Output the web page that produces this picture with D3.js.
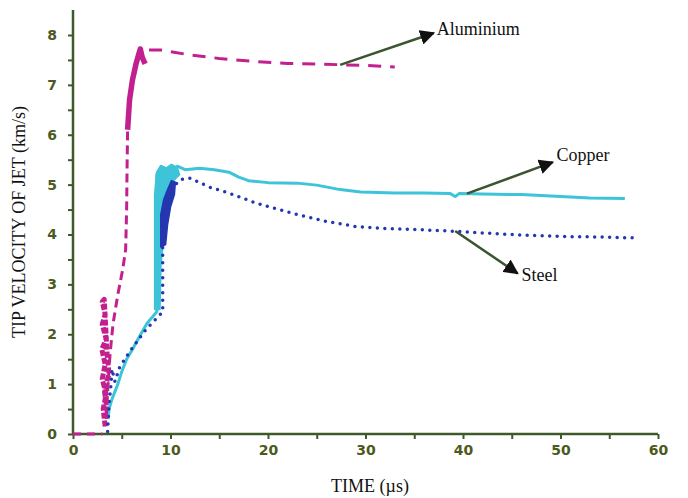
<!DOCTYPE html>
<html><head><meta charset="utf-8">
<script src="https://cdn.jsdelivr.net/npm/d3@7"></script>
<style>body{margin:0;background:#fff}svg{display:block}</style>
</head><body>
<script>
// ---- data ----
const xTicks = [0, 10, 20, 30, 40, 50, 60];
const yTicks = [0, 1, 2, 3, 4, 5, 6, 7, 8];

const aluminiumBase = [[0,0],[3.0,0]];
const aluminiumNoise = [[3.3,0.15],[3.1,0.5],[3.4,0.8],[3.0,1.1],[3.3,1.4],[2.95,1.7],[3.4,1.9],[3.0,2.2],[3.3,2.4],[3.0,2.65],[3.2,2.7],[3.5,1.6],[3.7,1.2],[3.2,0.9],[3.5,0.45]];
const aluminiumRise = [[3.4,0.3],[3.6,1.0],[3.8,1.6],[4.1,2.2],[4.6,2.8],[5.1,3.3],[5.4,3.7],[5.5,4.5],[5.55,5.4],[5.6,6.1]];
const aluminiumPeak = [[5.6,6.1],[5.8,6.7],[6.1,7.1],[6.5,7.45],[6.9,7.72],[7.1,7.55],[7.4,7.42]];
const aluminiumTail = [[7.8,7.7],[9,7.7],[12,7.6],[15,7.53],[18.5,7.47],[22,7.43],[25,7.42],[28,7.4],[30,7.39],[33,7.36]];

const copper = [[3.6,0.3],[3.7,0.5],[4.0,0.7],[4.6,1.0],[5.0,1.25],[5.5,1.5],[6.05,1.68],[6.8,1.95],[7.6,2.22],[8.6,2.45],[8.6,5.2],[9.0,5.3],[9.5,5.32],[10,5.28],[10.7,5.37],[11.5,5.3],[13,5.33],[14.5,5.3],[16,5.25],[17,5.15],[18,5.08],[20,5.04],[23,5.03],[25,4.99],[27.4,4.9],[29.5,4.85],[33,4.83],[36,4.83],[38.7,4.82],[39.2,4.76],[39.6,4.82],[42,4.81],[46,4.8],[50,4.76],[53,4.73],[56.6,4.72]];
const copperBand = [[8.4,2.5],[8.4,4.8],[8.6,5.25],[9.0,5.38],[9.6,5.33],[10.1,5.4],[10.7,5.33],[10.9,5.2],[10.4,5.1],[10.0,5.0],[9.6,4.7],[9.4,4.2],[9.2,3.8],[9.0,3.4],[8.9,2.5]];

const steel = [[3.55,0.05],[3.7,0.6],[3.9,1.0],[4.0,1.3],[4.3,1.05],[4.8,1.35],[6,1.7],[7.5,2.1],[9.2,2.45],[9.2,3.3],[9.2,4.0],[9.5,4.5],[10,4.9],[11,5.1],[12,5.13],[14,4.95],[16,4.83],[18.5,4.65],[20,4.56],[23,4.4],[26,4.26],[29,4.16],[32,4.12],[35,4.1],[38.7,4.07],[42,4.03],[46,3.99],[50,3.96],[54,3.95],[58,3.93]];
const steelBand = [[9.0,3.75],[9.0,4.4],[9.3,4.7],[9.7,4.9],[10.1,5.08],[10.5,5.05],[10.4,4.8],[10.0,4.55],[9.7,4.2],[9.5,3.8]];

const labels = ["Aluminium", "Copper", "Steel"];
const arrowFrom = [[27.4,7.4],[40.4,4.82],[39.2,4.07]];
const arrowTo = [[37.0,8.04],[49.2,5.45],[45.6,3.22]];
const labelAt = [[37.3,8.08],[49.6,5.55],[46.0,3.15]];

// ---- chart ----
const W = 688, H = 498;
const svg = d3.select("body").append("svg").attr("width", W).attr("height", H);
const x = d3.scaleLinear().domain([0, 60]).range([73, 658]);
const y = d3.scaleLinear().domain([0, 8]).range([434, 35]);

const axisCol = "#3f5a2a", tickCol = "#4c5a1c";
const magenta = "#c2208e", cyan = "#3ec4d8", blue = "#2437b0", arrowCol = "#3c5530";

const line = d3.line().x(d => x(d[0])).y(d => y(d[1]));

// axes
const gx = svg.append("g").attr("transform", `translate(0,${y(0)})`)
  .call(d3.axisBottom(x).tickValues(d3.range(0, 61, 5)).tickSize(5).tickFormat(d => xTicks.includes(d) ? d : ""));
const gy = svg.append("g").attr("transform", `translate(${x(0)},0)`)
  .call(d3.axisLeft(y).tickValues(d3.range(0, 8.01, 0.5)).tickSize(5).tickFormat(d => yTicks.includes(d) ? d : ""));
[gx, gy].forEach(g => {
  g.select(".domain").remove();
  g.selectAll(".tick line").attr("stroke", axisCol).attr("stroke-width", 2);
  g.selectAll(".tick text").attr("fill", tickCol).attr("font-family", "DejaVu Sans").attr("font-weight", "bold").attr("font-size", 14);
});
gx.selectAll(".tick text").attr("dy", "0.9em");
gy.selectAll(".tick text").attr("dx", "-8");
svg.append("line").attr("x1", x(0)).attr("x2", x(60)).attr("y1", y(0)).attr("y2", y(0)).attr("stroke", axisCol).attr("stroke-width", 2.5);
svg.append("line").attr("x1", x(0)).attr("x2", x(0)).attr("y1", y(0)).attr("y2", y(8.5)).attr("stroke", axisCol).attr("stroke-width", 2.5);

// axis titles
svg.append("text").attr("x", 370).attr("y", 492).attr("text-anchor", "middle")
  .attr("font-family", "Liberation Serif").attr("font-size", 18).attr("fill", "#111").text("TIME (\u00b5s)");
svg.append("text").attr("transform", `translate(25,${222}) rotate(-90)`).attr("text-anchor", "middle")
  .attr("font-family", "Liberation Serif").attr("font-size", 18).attr("fill", "#111").text("TIP VELOCITY OF JET (km/s)");

// aluminium
svg.append("path").attr("d", line(aluminiumBase)).attr("fill", "none").attr("stroke", magenta).attr("stroke-width", 3).attr("stroke-dasharray", "8 6");
svg.append("path").attr("d", line(aluminiumNoise)).attr("fill", "none").attr("stroke", magenta).attr("stroke-width", 5).attr("stroke-linejoin", "round").attr("stroke-dasharray", "6 2");

// copper
svg.append("path").attr("d", line(copperBand) + "Z").attr("fill", cyan).attr("stroke", cyan).attr("stroke-width", 2).attr("stroke-linejoin", "round");
svg.append("path").attr("d", line(copper)).attr("fill", "none").attr("stroke", cyan).attr("stroke-width", 3).attr("stroke-linejoin", "round");

// steel
svg.append("path").attr("d", line(steelBand) + "Z").attr("fill", blue).attr("stroke", blue).attr("stroke-width", 1.5).attr("stroke-linejoin", "round");
svg.append("path").attr("d", line(steel)).attr("fill", "none").attr("stroke", blue).attr("stroke-width", 3.5).attr("stroke-linecap", "round").attr("stroke-dasharray", "0 7.5");

// aluminium main
svg.append("path").attr("d", line(aluminiumRise)).attr("fill", "none").attr("stroke", magenta).attr("stroke-width", 3).attr("stroke-dasharray", "9 5");
svg.append("path").attr("d", line(aluminiumPeak)).attr("fill", "none").attr("stroke", magenta).attr("stroke-width", 5.5).attr("stroke-linejoin", "round");
svg.append("path").attr("d", line(aluminiumTail)).attr("fill", "none").attr("stroke", magenta).attr("stroke-width", 3).attr("stroke-dasharray", "13 9");

// annotations
const defs = svg.append("defs");
defs.append("marker").attr("id", "ah").attr("viewBox", "0 0 10 10").attr("refX", 9).attr("refY", 5)
  .attr("markerWidth", 6).attr("markerHeight", 6).attr("orient", "auto")
  .append("path").attr("d", "M0,0L10,5L0,10Z").attr("fill", "#111");
labels.forEach((lab, i) => {
  svg.append("line").attr("x1", x(arrowFrom[i][0])).attr("y1", y(arrowFrom[i][1]))
    .attr("x2", x(arrowTo[i][0])).attr("y2", y(arrowTo[i][1]))
    .attr("stroke", arrowCol).attr("stroke-width", 2.5).attr("marker-end", "url(#ah)");
  svg.append("text").attr("x", x(labelAt[i][0])).attr("y", y(labelAt[i][1]))
    .attr("font-family", "Liberation Serif").attr("font-size", 18).attr("fill", "#111")
    .attr("dominant-baseline", "middle").text(lab);
});
</script>
</body></html>
